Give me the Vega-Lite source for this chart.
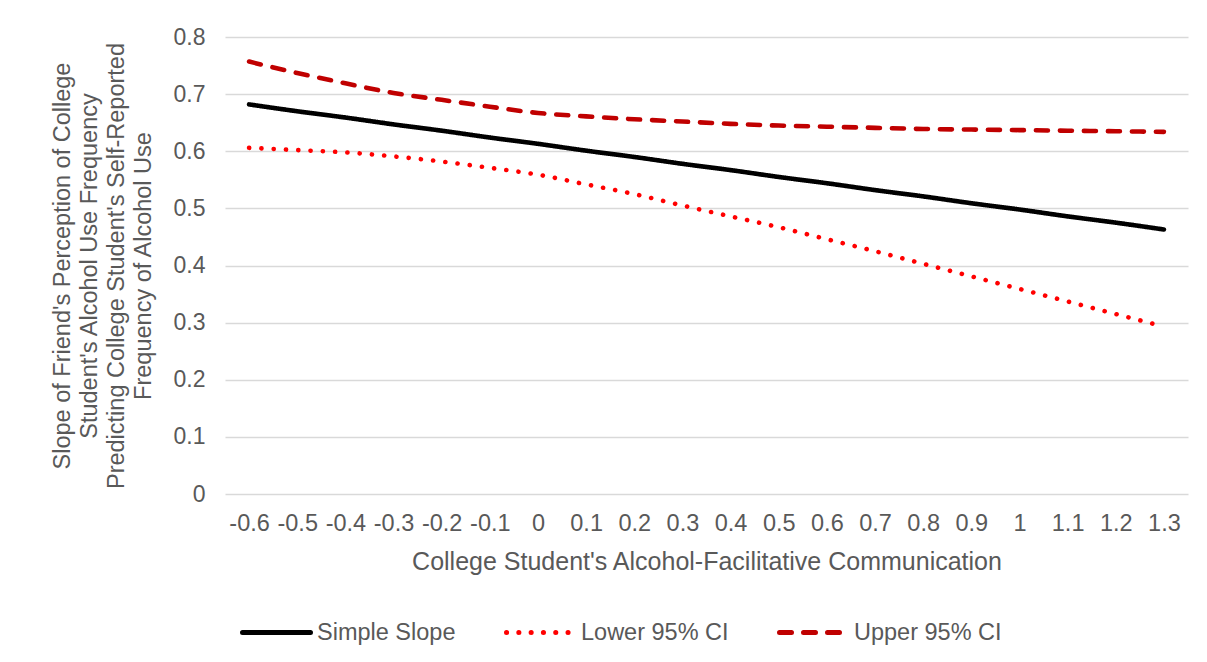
{
  "$schema": "https://vega.github.io/schema/vega-lite/v6.json",
  "width": 963,
  "height": 457,
  "autosize": {"type": "none"},
  "padding": {"left": 225, "top": 37, "right": 19, "bottom": 168},
  "background": "white",
  "config": {
    "font": "Liberation Sans",
    "view": {"stroke": null},
    "axis": {"labelColor": "#595959", "titleColor": "#595959", "labelFont": "Liberation Sans", "titleFont": "Liberation Sans", "titleFontWeight": "normal"},
    "legend": {"labelColor": "#595959", "labelFont": "Liberation Sans"}
  },
  "data": {"values": [
    {"x": "-0.6", "series": "Simple Slope", "v": 0.682},
    {"x": "-0.5", "series": "Simple Slope", "v": 0.670},
    {"x": "-0.4", "series": "Simple Slope", "v": 0.659},
    {"x": "-0.3", "series": "Simple Slope", "v": 0.647},
    {"x": "-0.2", "series": "Simple Slope", "v": 0.636},
    {"x": "-0.1", "series": "Simple Slope", "v": 0.624},
    {"x": "0", "series": "Simple Slope", "v": 0.613},
    {"x": "0.1", "series": "Simple Slope", "v": 0.601},
    {"x": "0.2", "series": "Simple Slope", "v": 0.590},
    {"x": "0.3", "series": "Simple Slope", "v": 0.578},
    {"x": "0.4", "series": "Simple Slope", "v": 0.567},
    {"x": "0.5", "series": "Simple Slope", "v": 0.555},
    {"x": "0.6", "series": "Simple Slope", "v": 0.544},
    {"x": "0.7", "series": "Simple Slope", "v": 0.532},
    {"x": "0.8", "series": "Simple Slope", "v": 0.521},
    {"x": "0.9", "series": "Simple Slope", "v": 0.509},
    {"x": "1", "series": "Simple Slope", "v": 0.498},
    {"x": "1.1", "series": "Simple Slope", "v": 0.486},
    {"x": "1.2", "series": "Simple Slope", "v": 0.475},
    {"x": "1.3", "series": "Simple Slope", "v": 0.463},
    {"x": "-0.6", "series": "Lower 95% CI", "v": 0.606},
    {"x": "-0.5", "series": "Lower 95% CI", "v": 0.602},
    {"x": "-0.4", "series": "Lower 95% CI", "v": 0.598},
    {"x": "-0.3", "series": "Lower 95% CI", "v": 0.591},
    {"x": "-0.2", "series": "Lower 95% CI", "v": 0.582},
    {"x": "-0.1", "series": "Lower 95% CI", "v": 0.571},
    {"x": "0", "series": "Lower 95% CI", "v": 0.559},
    {"x": "0.1", "series": "Lower 95% CI", "v": 0.542},
    {"x": "0.2", "series": "Lower 95% CI", "v": 0.525},
    {"x": "0.3", "series": "Lower 95% CI", "v": 0.505},
    {"x": "0.4", "series": "Lower 95% CI", "v": 0.486},
    {"x": "0.5", "series": "Lower 95% CI", "v": 0.467},
    {"x": "0.6", "series": "Lower 95% CI", "v": 0.446},
    {"x": "0.7", "series": "Lower 95% CI", "v": 0.425},
    {"x": "0.8", "series": "Lower 95% CI", "v": 0.403},
    {"x": "0.9", "series": "Lower 95% CI", "v": 0.381},
    {"x": "1", "series": "Lower 95% CI", "v": 0.359},
    {"x": "1.1", "series": "Lower 95% CI", "v": 0.337},
    {"x": "1.2", "series": "Lower 95% CI", "v": 0.315},
    {"x": "1.3", "series": "Lower 95% CI", "v": 0.293},
    {"x": "-0.6", "series": "Upper 95% CI", "v": 0.757},
    {"x": "-0.5", "series": "Upper 95% CI", "v": 0.737},
    {"x": "-0.4", "series": "Upper 95% CI", "v": 0.719},
    {"x": "-0.3", "series": "Upper 95% CI", "v": 0.702},
    {"x": "-0.2", "series": "Upper 95% CI", "v": 0.690},
    {"x": "-0.1", "series": "Upper 95% CI", "v": 0.678},
    {"x": "0", "series": "Upper 95% CI", "v": 0.667},
    {"x": "0.1", "series": "Upper 95% CI", "v": 0.661},
    {"x": "0.2", "series": "Upper 95% CI", "v": 0.656},
    {"x": "0.3", "series": "Upper 95% CI", "v": 0.652},
    {"x": "0.4", "series": "Upper 95% CI", "v": 0.648},
    {"x": "0.5", "series": "Upper 95% CI", "v": 0.645},
    {"x": "0.6", "series": "Upper 95% CI", "v": 0.643},
    {"x": "0.7", "series": "Upper 95% CI", "v": 0.641},
    {"x": "0.8", "series": "Upper 95% CI", "v": 0.639},
    {"x": "0.9", "series": "Upper 95% CI", "v": 0.638},
    {"x": "1", "series": "Upper 95% CI", "v": 0.637},
    {"x": "1.1", "series": "Upper 95% CI", "v": 0.636},
    {"x": "1.2", "series": "Upper 95% CI", "v": 0.635},
    {"x": "1.3", "series": "Upper 95% CI", "v": 0.634}
  ]},
  "mark": {"type": "line", "strokeWidth": 4.6, "strokeCap": "round", "interpolate": "monotone"},
  "encoding": {
    "x": {
      "field": "x", "type": "ordinal", "sort": null,
      "scale": {"type": "point", "padding": 0.5},
      "axis": {
        "title": "College Student's Alcohol-Facilitative Communication",
        "labelAngle": 0, "labelFontSize": 23.5, "titleFontSize": 25,
        "ticks": false, "domain": false, "grid": false,
        "labelPadding": 17, "titlePadding": 15
      }
    },
    "y": {
      "field": "v", "type": "quantitative",
      "scale": {"domain": [0, 0.8], "nice": false, "zero": true},
      "axis": {
        "title": ["Slope of Friend's Perception of College", "Student's Alcohol Use Frequency", "Predicting College Student's Self-Reported", "Frequency of Alcohol Use"],
        "values": [0, 0.1, 0.2, 0.3, 0.4, 0.5, 0.6, 0.7, 0.8],
        "format": ".1~f",
        "labelFontSize": 23, "titleFontSize": 23.5, "titleLineHeight": 27,
        "ticks": false, "domain": false,
        "grid": true, "gridColor": "#D9D9D9", "gridWidth": 1.5,
        "labelPadding": 20, "titlePadding": 18
      }
    },
    "color": {
      "field": "series", "type": "nominal",
      "scale": {"domain": ["Simple Slope", "Lower 95% CI", "Upper 95% CI"], "range": ["#000000", "#FF0000", "#C00000"]},
      "legend": {
        "title": null, "orient": "none", "direction": "horizontal",
        "legendX": 15, "legendY": 559,
        "symbolType": "stroke", "symbolSize": 4624, "symbolStrokeWidth": 5,
        "labelFontSize": 23.5, "labelOffset": 4, "columnPadding": 40,
        "encode": {"symbols": {"update": {"strokeCap": {"value": "round"}}}}
      }
    },
    "strokeDash": {
      "field": "series", "type": "nominal",
      "scale": {"domain": ["Simple Slope", "Lower 95% CI", "Upper 95% CI"], "range": [[1, 0], [0.1, 12.2], [12, 12]]},
      "legend": {
        "title": null, "orient": "none", "direction": "horizontal",
        "legendX": 15, "legendY": 559,
        "symbolType": "stroke", "symbolSize": 4624, "symbolStrokeWidth": 5,
        "labelFontSize": 23.5, "labelOffset": 4, "columnPadding": 40,
        "encode": {"symbols": {"update": {"strokeCap": {"value": "round"}}}}
      }
    }
  }
}
